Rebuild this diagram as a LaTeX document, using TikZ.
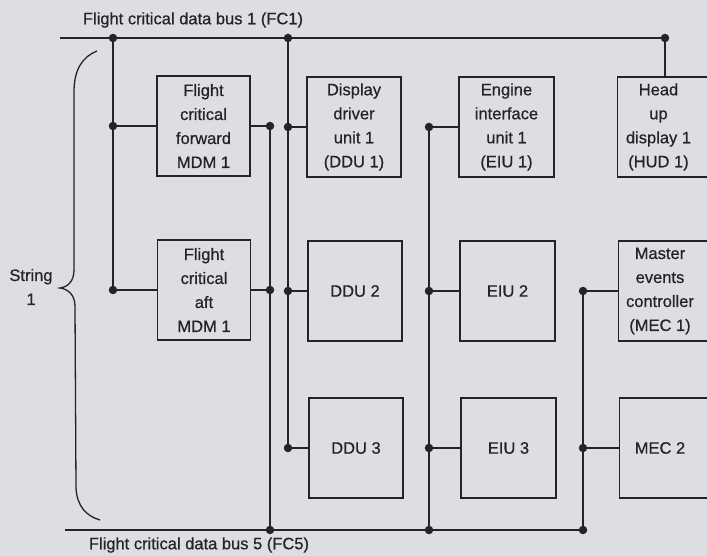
\documentclass[tikz,border=0pt]{standalone}
\usepackage{fontspec}
\setmainfont{Liberation Sans}[FakeBold=0.6]
\definecolor{paper}{RGB}{221,222,228}
\definecolor{ink}{RGB}{35,35,40}
\begin{document}
\begin{tikzpicture}[x=1pt,y=-1pt,
  every node/.style={font=\fontsize{16.5}{24}\selectfont, text=ink},
  unitbox/.style={draw=ink, line width=1.3pt, minimum height=100, inner sep=0pt, align=center},
  wire/.style={draw=ink, line width=1.6pt},
  jn/.style={circle, fill=ink, inner sep=0pt, minimum size=8.5pt}]
\fill[paper] (0,0) rectangle (707,556);
\useasboundingbox (0,0) rectangle (707,556);
\begin{scope}
\clip (0,0) rectangle (707,556);
% boxes
\node[unitbox, minimum width=93] (mdmf) at (203.5,126) {Flight\\critical\\forward\\MDM 1};
\node[unitbox, minimum width=93] (mdma) at (204,290) {Flight\\critical\\aft\\MDM 1};
\node[unitbox, minimum width=94] (ddu1) at (354,127) {Display\\driver\\unit 1\\(DDU 1)};
\node[unitbox, minimum width=94] (ddu2) at (355,291) {DDU 2};
\node[unitbox, minimum width=94] (ddu3) at (356,448) {DDU 3};
\node[unitbox, minimum width=95] (eiu1) at (506.5,127) {Engine\\interface\\unit 1\\(EIU 1)};
\node[unitbox, minimum width=95] (eiu2) at (507.5,291) {EIU 2};
\node[unitbox, minimum width=95] (eiu3) at (508.5,448) {EIU 3};
\node[unitbox, minimum width=96, anchor=west] (hud) at (617,127) {};
\node[align=center] (hudt) at (658.5,127) {Head\\up\\display 1\\(HUD 1)};
\node[unitbox, minimum width=96, anchor=west] (mec1) at (618,291) {};
\node[align=center] (mec1t) at (660,291) {Master\\events\\controller\\(MEC 1)};
\node[unitbox, minimum width=96, anchor=west] (mec2) at (619,448) {};
\node (mec2t) at (660,448) {MEC 2};
% bus labels
\node (fc1) at (193,20) {Flight critical data bus 1 (FC1)};
\node (fc5) at (199,545) {Flight critical data bus 5 (FC5)};
\node[align=center] (str) at (31,287) {String\\1};
% junction coordinates
\coordinate (b1s) at (60,38);
\coordinate (b1e) at (665,38);
\coordinate (b5s) at (65,530);
\coordinate (b5e) at (583,530);
\coordinate (a1) at (113,38);
\coordinate (a2) at (113,126);
\coordinate (a3) at (113,290);
\coordinate (c1) at (270,126);
\coordinate (c2) at (270,290);
\coordinate (c3) at (270,530);
\coordinate (d1) at (288,38);
\coordinate (d2) at (288,127);
\coordinate (d3) at (288,291);
\coordinate (d4) at (288,448);
\coordinate (e1) at (429,127);
\coordinate (e2) at (429,291);
\coordinate (e3) at (429,448);
\coordinate (e4) at (429,530);
\coordinate (m1) at (583,291);
\coordinate (m2) at (583,448);
\coordinate (h1) at (665,38);
% buses
\draw[wire] (b1s) -- (b1e);
\draw[wire] (b5s) -- (b5e);
% verticals
\draw[wire] (a1) -- (a3);
\draw[wire] (c1) -- (c3);
\draw[wire] (d1) -- (d4);
\draw[wire] (e1) -- (e4);
\draw[wire] (m1) -- (b5e);
\draw[wire] (h1) -- (hud.north -| h1);
% stubs
\draw[wire] (a2) -- (mdmf.west);
\draw[wire] (a3) -- (mdma.west);
\draw[wire] (mdmf.east) -- (c1);
\draw[wire] (mdma.east) -- (c2);
\draw[wire] (d2) -- (ddu1.west);
\draw[wire] (d3) -- (ddu2.west);
\draw[wire] (d4) -- (ddu3.west);
\draw[wire] (e1) -- (eiu1.west);
\draw[wire] (e2) -- (eiu2.west);
\draw[wire] (e3) -- (eiu3.west);
\draw[wire] (m1) -- (mec1.west);
\draw[wire] (m2) -- (mec2.west);
% dots
\foreach \p in {a1,a2,a3,c1,c2,c3,d1,d2,d3,d4,e1,e2,e3,e4,m1,m2,b5e,h1}
  \node[jn] at (\p) {};
% brace
\draw[wire, line width=1.3pt] (97,51) .. controls (82,57) and (74,70) .. (74,92) -- (74,270)
  .. controls (74,281) and (68,287) .. (60,288)
  .. controls (68,289) and (75,295) .. (75,306) -- (76,488)
  .. controls (77,506) and (86,516) .. (100,520);
\end{scope}
\end{tikzpicture}
\end{document}
